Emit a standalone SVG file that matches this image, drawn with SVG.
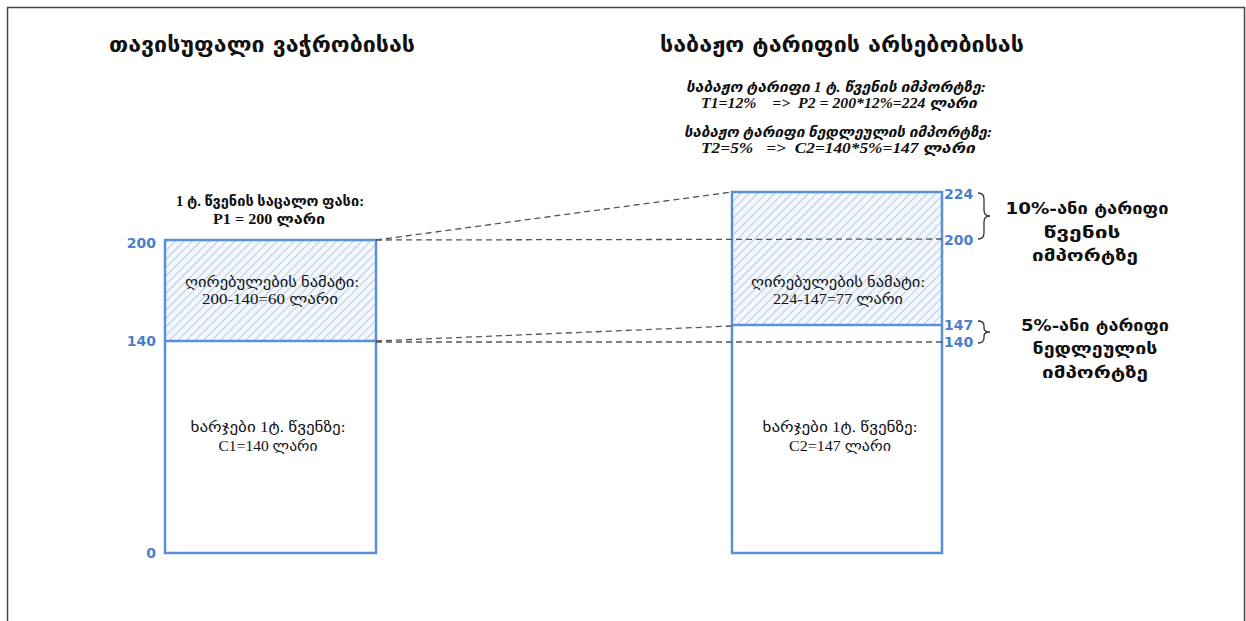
<svg xmlns="http://www.w3.org/2000/svg" width="1246" height="621" viewBox="0 0 1246 621">
<defs>
<pattern id="hatch" patternUnits="userSpaceOnUse" width="6" height="6" patternTransform="rotate(45)">
<rect width="6" height="6" fill="#f4f7fc"/>
<line x1="0" y1="0" x2="0" y2="6" stroke="#b6cbea" stroke-width="2"/>
</pattern>
<style>
.bar{fill:none;stroke:#5b8fd8;stroke-width:2.5}
.dash{stroke:#555;stroke-width:1.3;stroke-dasharray:6 4;fill:none}
.ax{font-family:"DejaVu Sans","Liberation Sans",sans-serif;font-weight:bold;font-size:14px;fill:#4a7fcc}
.title{font-family:"DejaVu Sans","Liberation Sans",sans-serif;font-weight:bold;font-size:21px;fill:#111;text-anchor:middle}
.lab{font-family:"Liberation Serif","DejaVu Sans",serif;font-size:14px;fill:#111;text-anchor:middle}
.labb{font-family:"Liberation Serif","DejaVu Sans",serif;font-size:14px;font-weight:bold;fill:#111;text-anchor:middle}
.it{font-family:"Liberation Serif","DejaVu Sans",serif;font-size:14px;font-style:italic;font-weight:bold;fill:#111;text-anchor:middle}
.brt{font-family:"DejaVu Sans","Liberation Sans",sans-serif;font-size:16px;font-weight:bold;fill:#111;text-anchor:middle}
.brace{fill:none;stroke:#333;stroke-width:1.3}
</style>
</defs>
<rect x="0" y="0" width="1246" height="621" fill="#fff"/>
<path d="M7.5 640 V7.5 H1244.5 V640" fill="none" stroke="#444" stroke-width="1.5"/>

<g id="titles">
<text class="title" x="262" y="52" textLength="306" lengthAdjust="spacingAndGlyphs">თავისუფალი ვაჭრობისას</text>
<text class="title" x="842" y="52" textLength="364" lengthAdjust="spacingAndGlyphs">საბაჟო ტარიფის არსებობისას</text>
</g>

<g id="formulas">
<text class="it" x="836" y="92" textLength="300" lengthAdjust="spacingAndGlyphs">საბაჟო ტარიფი 1 ტ. წვენის იმპორტზე:</text>
<text class="it" x="839" y="108" xml:space="preserve" textLength="276" lengthAdjust="spacingAndGlyphs">T1=12%    =&gt;  P2 = 200*12%=224 ლარი</text>
<text class="it" x="838" y="137" textLength="308" lengthAdjust="spacingAndGlyphs">საბაჟო ტარიფი  ნედლეულის იმპორტზე:</text>
<text class="it" x="838" y="153" xml:space="preserve" textLength="274" lengthAdjust="spacingAndGlyphs">T2=5%   =&gt;  C2=140*5%=147 ლარი</text>
</g>

<g id="left-bar">
<rect x="165" y="240" width="211" height="101" fill="url(#hatch)"/>
<rect class="bar" x="165" y="240" width="211" height="313"/>
<line class="bar" x1="165" y1="341" x2="376" y2="341"/>
<text class="labb" x="270" y="206" textLength="188" lengthAdjust="spacingAndGlyphs">1 ტ. წვენის საცალო ფასი:</text>
<text class="labb" x="269" y="224" textLength="112" lengthAdjust="spacingAndGlyphs">P1 = 200 ლარი</text>
<text class="lab" x="272" y="287" textLength="174" lengthAdjust="spacingAndGlyphs">ღირებულების ნამატი:</text>
<text class="lab" x="270" y="304" textLength="136" lengthAdjust="spacingAndGlyphs">200-140=60 ლარი</text>
<text class="lab" x="268" y="432" textLength="155" lengthAdjust="spacingAndGlyphs">ხარჯები 1ტ. წვენზე:</text>
<text class="lab" x="268" y="451" textLength="99" lengthAdjust="spacingAndGlyphs">C1=140 ლარი</text>
<text class="ax" x="156" y="248" text-anchor="end">200</text>
<text class="ax" x="156" y="346" text-anchor="end">140</text>
<text class="ax" x="156" y="558" text-anchor="end">0</text>
</g>

<g id="right-bar">
<rect x="732" y="192" width="210" height="133" fill="url(#hatch)"/>
<rect class="bar" x="732" y="192" width="210" height="361"/>
<line class="bar" x1="732" y1="325" x2="942" y2="325"/>
<text class="lab" x="838" y="287" textLength="174" lengthAdjust="spacingAndGlyphs">ღირებულების ნამატი:</text>
<text class="lab" x="838" y="304" textLength="130" lengthAdjust="spacingAndGlyphs">224-147=77 ლარი</text>
<text class="lab" x="840" y="432" textLength="155" lengthAdjust="spacingAndGlyphs">ხარჯები 1ტ. წვენზე:</text>
<text class="lab" x="840" y="451" textLength="102" lengthAdjust="spacingAndGlyphs">C2=147 ლარი</text>
<text class="ax" x="944" y="199">224</text>
<text class="ax" x="944" y="245">200</text>
<text class="ax" x="944" y="330">147</text>
<text class="ax" x="944" y="347">140</text>
</g>

<g id="connectors">
<line class="dash" x1="376" y1="240" x2="732" y2="192"/>
<line class="dash" x1="376" y1="240" x2="942" y2="239"/>
<line class="dash" x1="376" y1="341" x2="732" y2="326"/>
<line class="dash" x1="376" y1="342" x2="942" y2="342"/>
</g>

<g id="brace-10">
<path class="brace" d="M978 193 Q984 193 984 199 V210 Q984 216 990 216 Q984 216 984 222 V233 Q984 239 978 239"/>
<text class="brt" x="1087" y="214" textLength="163" lengthAdjust="spacingAndGlyphs">10%-ანი ტარიფი</text>
<text class="brt" x="1082" y="238" textLength="77" lengthAdjust="spacingAndGlyphs">წვენის</text>
<text class="brt" x="1085" y="261" textLength="106" lengthAdjust="spacingAndGlyphs">იმპორტზე</text>
</g>

<g id="brace-5">
<path class="brace" d="M978 321 Q984 321 984 326 V328 Q984 332 990 332 Q984 332 984 336 V338 Q984 343 978 343"/>
<text class="brt" x="1095" y="331" textLength="148" lengthAdjust="spacingAndGlyphs">5%-ანი ტარიფი</text>
<text class="brt" x="1095" y="354" textLength="125" lengthAdjust="spacingAndGlyphs">ნედლეულის</text>
<text class="brt" x="1095" y="378" textLength="106" lengthAdjust="spacingAndGlyphs">იმპორტზე</text>
</g>
</svg>
